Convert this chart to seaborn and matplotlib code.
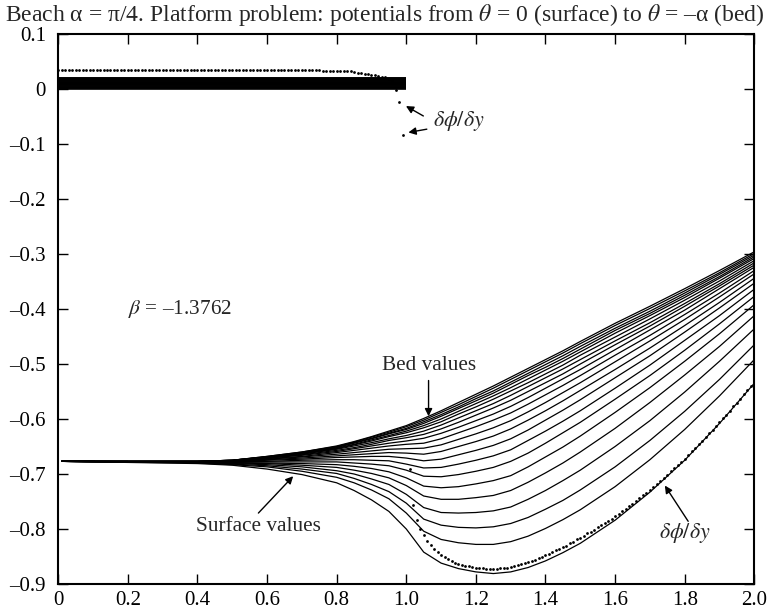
import numpy as np
import pandas as pd
import matplotlib
matplotlib.use("Agg")
import matplotlib.pyplot as plt
import seaborn as sns

# ---------------- data ----------------
# x stations at which the 21 potential curves (bed -> surface) were read
x_stations = [0.01, 0.4, 0.5, 0.6, 0.7, 0.8, 0.85, 0.9, 0.95, 1.0, 1.05,
              1.1, 1.15, 1.2, 1.25, 1.3, 1.35, 1.4, 1.45, 1.5, 1.6, 1.7, 1.8, 1.9, 2.0]

# each list: potentials of the 21 curves at one x station, from bed (theta=-alpha) to surface (theta=0)
phi_x001 = [-0.677] * 21
phi_x040 = [-0.677, -0.677, -0.677, -0.677, -0.677, -0.677, -0.677, -0.677, -0.678, -0.678, -0.678,
            -0.678, -0.678, -0.678, -0.678, -0.679, -0.679, -0.679, -0.679, -0.680, -0.681]
phi_x050 = [-0.675, -0.675, -0.675, -0.675, -0.675, -0.676, -0.676, -0.676, -0.676, -0.677, -0.677,
            -0.677, -0.678, -0.678, -0.679, -0.680, -0.680, -0.681, -0.682, -0.683, -0.684]
phi_x060 = [-0.668, -0.668, -0.669, -0.669, -0.669, -0.670, -0.670, -0.671, -0.671, -0.672, -0.673,
            -0.674, -0.675, -0.677, -0.678, -0.680, -0.681, -0.683, -0.685, -0.687, -0.691]
phi_x070 = [-0.660, -0.660, -0.661, -0.662, -0.662, -0.663, -0.664, -0.665, -0.666, -0.668, -0.669,
            -0.671, -0.673, -0.675, -0.678, -0.681, -0.684, -0.687, -0.691, -0.695, -0.701]
phi_x080 = [-0.649, -0.650, -0.651, -0.652, -0.653, -0.654, -0.655, -0.657, -0.659, -0.661, -0.664,
            -0.667, -0.670, -0.674, -0.678, -0.683, -0.688, -0.694, -0.699, -0.706, -0.716]
phi_x085 = [-0.641, -0.642, -0.643, -0.644, -0.646, -0.647, -0.649, -0.652, -0.654, -0.657, -0.661,
            -0.665, -0.669, -0.674, -0.680, -0.686, -0.693, -0.700, -0.708, -0.716, -0.730]
phi_x090 = [-0.632, -0.633, -0.635, -0.636, -0.638, -0.640, -0.643, -0.646, -0.649, -0.653, -0.658,
            -0.663, -0.668, -0.675, -0.682, -0.690, -0.699, -0.709, -0.719, -0.729, -0.747]
phi_x095 = [-0.622, -0.624, -0.626, -0.627, -0.630, -0.632, -0.636, -0.639, -0.644, -0.649, -0.655,
            -0.661, -0.668, -0.676, -0.685, -0.696, -0.707, -0.719, -0.732, -0.745, -0.768]
phi_x100 = [-0.612, -0.614, -0.617, -0.619, -0.622, -0.625, -0.630, -0.634, -0.640, -0.646, -0.654,
            -0.662, -0.671, -0.682, -0.693, -0.707, -0.721, -0.737, -0.753, -0.771, -0.800]
phi_x105 = [-0.599, -0.602, -0.605, -0.608, -0.612, -0.616, -0.622, -0.628, -0.635, -0.644, -0.653,
            -0.664, -0.676, -0.689, -0.704, -0.722, -0.740, -0.761, -0.782, -0.804, -0.842]
phi_x110 = [-0.585, -0.588, -0.592, -0.595, -0.600, -0.605, -0.611, -0.618, -0.626, -0.636, -0.647,
            -0.659, -0.673, -0.688, -0.705, -0.725, -0.746, -0.770, -0.793, -0.819, -0.862]
phi_x115 = [-0.570, -0.574, -0.578, -0.581, -0.586, -0.591, -0.598, -0.606, -0.615, -0.625, -0.637,
            -0.650, -0.665, -0.682, -0.701, -0.723, -0.746, -0.771, -0.797, -0.825, -0.872]
phi_x120 = [-0.555, -0.559, -0.563, -0.567, -0.572, -0.578, -0.585, -0.593, -0.603, -0.614, -0.627,
            -0.641, -0.657, -0.675, -0.695, -0.718, -0.743, -0.770, -0.798, -0.828, -0.878]
phi_x125 = [-0.540, -0.544, -0.549, -0.553, -0.558, -0.564, -0.572, -0.580, -0.591, -0.602, -0.616,
            -0.631, -0.648, -0.667, -0.688, -0.712, -0.739, -0.767, -0.796, -0.828, -0.881]
phi_x130 = [-0.524, -0.528, -0.533, -0.537, -0.543, -0.549, -0.557, -0.566, -0.577, -0.589, -0.603,
            -0.618, -0.636, -0.656, -0.677, -0.703, -0.730, -0.760, -0.790, -0.823, -0.878]
phi_x135 = [-0.508, -0.512, -0.517, -0.521, -0.527, -0.534, -0.541, -0.550, -0.561, -0.573, -0.587,
            -0.602, -0.620, -0.639, -0.662, -0.687, -0.715, -0.746, -0.779, -0.813, -0.870]
phi_x140 = [-0.492, -0.496, -0.501, -0.506, -0.511, -0.518, -0.525, -0.534, -0.544, -0.556, -0.570,
            -0.585, -0.602, -0.622, -0.644, -0.669, -0.698, -0.730, -0.764, -0.799, -0.858]
phi_x145 = [-0.476, -0.480, -0.485, -0.490, -0.495, -0.502, -0.509, -0.518, -0.527, -0.539, -0.552,
            -0.567, -0.584, -0.604, -0.625, -0.651, -0.680, -0.712, -0.748, -0.783, -0.843]
phi_x150 = [-0.459, -0.463, -0.468, -0.473, -0.478, -0.484, -0.492, -0.500, -0.510, -0.521, -0.534,
            -0.548, -0.565, -0.585, -0.606, -0.631, -0.660, -0.693, -0.729, -0.765, -0.826]
phi_x160 = [-0.426, -0.430, -0.435, -0.439, -0.444, -0.451, -0.458, -0.465, -0.474, -0.484, -0.496,
            -0.510, -0.525, -0.544, -0.564, -0.588, -0.617, -0.650, -0.687, -0.723, -0.784]
phi_x170 = [-0.395, -0.399, -0.404, -0.408, -0.412, -0.418, -0.425, -0.431, -0.438, -0.448, -0.458,
            -0.471, -0.485, -0.502, -0.521, -0.543, -0.570, -0.603, -0.639, -0.674, -0.733]
phi_x180 = [-0.363, -0.367, -0.371, -0.375, -0.379, -0.384, -0.390, -0.395, -0.402, -0.410, -0.419,
            -0.430, -0.442, -0.457, -0.475, -0.495, -0.520, -0.551, -0.586, -0.619, -0.675]
phi_x190 = [-0.330, -0.334, -0.337, -0.341, -0.344, -0.349, -0.354, -0.358, -0.363, -0.371, -0.378,
            -0.388, -0.398, -0.412, -0.427, -0.445, -0.468, -0.495, -0.528, -0.558, -0.608]
phi_x200 = [-0.296, -0.299, -0.302, -0.305, -0.308, -0.312, -0.316, -0.320, -0.324, -0.330, -0.336,
            -0.344, -0.353, -0.364, -0.377, -0.392, -0.412, -0.436, -0.465, -0.492, -0.535]

phi_columns = [phi_x001, phi_x040, phi_x050, phi_x060, phi_x070, phi_x080, phi_x085, phi_x090,
               phi_x095, phi_x100, phi_x105, phi_x110, phi_x115, phi_x120, phi_x125, phi_x130,
               phi_x135, phi_x140, phi_x145, phi_x150, phi_x160, phi_x170, phi_x180, phi_x190,
               phi_x200]

# platform potentials (0 < x < 1): 21 nearly constant curves, forming the thick band
platform_x = [0.0, 1.0]
platform_levels = [0.0005, 0.0015, 0.0025, 0.0035, 0.0045, 0.0055, 0.0065, 0.0075, 0.0085, 0.0095,
                   0.0105, 0.0115, 0.0125, 0.0135, 0.0145, 0.0155, 0.0165, 0.0175, 0.0185, 0.0195,
                   0.0205]

# d(phi)/dy sample points, x = 0.00 ... 0.99 (step 0.01)
dphidy_top = [0.035, 0.035, 0.035, 0.035, 0.035, 0.035, 0.035, 0.035, 0.035, 0.035,
              0.035, 0.035, 0.035, 0.035, 0.035, 0.035, 0.035, 0.035, 0.035, 0.035,
              0.035, 0.035, 0.035, 0.035, 0.035, 0.035, 0.035, 0.035, 0.035, 0.035,
              0.035, 0.035, 0.035, 0.035, 0.035, 0.035, 0.035, 0.035, 0.035, 0.035,
              0.035, 0.035, 0.035, 0.035, 0.035, 0.035, 0.035, 0.035, 0.035, 0.035,
              0.035, 0.035, 0.035, 0.035, 0.035, 0.035, 0.035, 0.035, 0.035, 0.035,
              0.035, 0.034, 0.034, 0.034, 0.034, 0.034, 0.034, 0.034, 0.034, 0.034,
              0.034, 0.034, 0.034, 0.034, 0.034, 0.034, 0.033, 0.033, 0.033, 0.033,
              0.033, 0.033, 0.033, 0.032, 0.032, 0.031, 0.030, 0.029, 0.028, 0.027,
              0.026, 0.025, 0.024, 0.022, 0.021, 0.019, 0.015, -0.002, -0.024, -0.083]
# d(phi)/dy sample points, x = 1.01 ... 2.00 (step 0.01)
dphidy_bottom = [-0.691, -0.757, -0.784, -0.800, -0.811, -0.821, -0.829, -0.836, -0.842, -0.847,
                 -0.851, -0.855, -0.858, -0.861, -0.863, -0.865, -0.867, -0.868, -0.869, -0.870,
                 -0.871, -0.871, -0.872, -0.872, -0.872, -0.872, -0.871, -0.871, -0.870, -0.869,
                 -0.867, -0.866, -0.864, -0.862, -0.860, -0.858, -0.856, -0.853, -0.851, -0.848,
                 -0.845, -0.842, -0.839, -0.836, -0.833, -0.830, -0.826, -0.823, -0.819, -0.816,
                 -0.812, -0.808, -0.805, -0.801, -0.797, -0.793, -0.789, -0.785, -0.781, -0.777,
                 -0.772, -0.768, -0.763, -0.759, -0.754, -0.749, -0.744, -0.739, -0.734, -0.729,
                 -0.723, -0.718, -0.712, -0.707, -0.701, -0.695, -0.689, -0.684, -0.678, -0.672,
                 -0.666, -0.659, -0.653, -0.646, -0.640, -0.633, -0.626, -0.620, -0.613, -0.606,
                 -0.599, -0.592, -0.585, -0.577, -0.570, -0.563, -0.555, -0.548, -0.540, -0.533]

x_ticks = [0.0, 0.2, 0.4, 0.6, 0.8, 1.0, 1.2, 1.4, 1.6, 1.8, 2.0]
x_ticklabels = ["0", "0.2", "0.4", "0.6", "0.8", "1.0", "1.2", "1.4", "1.6", "1.8", "2.0"]
y_ticks = [0.1, 0.0, -0.1, -0.2, -0.3, -0.4, -0.5, -0.6, -0.7, -0.8, -0.9]
y_ticklabels = ["0.1", "0", "–0.1", "–0.2", "–0.3", "–0.4", "–0.5", "–0.6", "–0.7", "–0.8", "–0.9"]

# ---------------- build tables ----------------
rows = []
for i, xv in enumerate(x_stations):
    for k, v in enumerate(phi_columns[i]):
        rows.append({"x": xv, "phi": v, "curve": k})
curves_df = pd.DataFrame(rows)

prow = []
for k, lev in enumerate(platform_levels):
    for xv in platform_x:
        prow.append({"x": xv, "phi": lev, "curve": k})
platform_df = pd.DataFrame(prow)

dots_x = list(np.round(np.arange(0, 100) * 0.01, 2)) + list(np.round(1.01 + np.arange(0, 100) * 0.01, 2))
dots_df = pd.DataFrame({"x": dots_x, "phi": dphidy_top + dphidy_bottom})

# ---------------- style ----------------
sns.set_theme(style="ticks")
plt.rcParams["font.family"] = ["Liberation Serif", "DejaVu Serif"]
plt.rcParams["mathtext.fontset"] = "stix"
plt.rcParams["axes.unicode_minus"] = False

fig = plt.figure(figsize=(7.7, 6.13), dpi=100)
ax = fig.add_axes([0.0757, 0.0473, 0.9039, 0.8972])

sns.lineplot(data=curves_df, x="x", y="phi", units="curve", estimator=None,
             color="black", lw=0.9, legend=False, ax=ax, sort=False)
sns.lineplot(data=platform_df, x="x", y="phi", units="curve", estimator=None,
             color="black", lw=1.2, legend=False, ax=ax, sort=False,
             solid_capstyle="butt")
sns.scatterplot(data=dots_df, x="x", y="phi", color="black", s=4, linewidth=0,
                legend=False, ax=ax)

ax.set_xlim(0, 2.0)
ax.set_ylim(-0.9, 0.1)
ax.set_xticks(x_ticks)
ax.set_xticklabels(x_ticklabels)
ax.set_yticks(y_ticks)
ax.set_yticklabels(y_ticklabels)
ax.set_xlabel("")
ax.set_ylabel("")
ax.tick_params(direction="in", length=7, width=1.0, top=True, right=True,
               labelsize=15, colors="black")
ax.tick_params(axis="y", pad=9)
ax.tick_params(axis="x", pad=5)
for sp in ax.spines.values():
    sp.set_linewidth(1.5)
    sp.set_color("black")
    sp.set_visible(True)

fig.text(0.5, 1 - 21.0 / 613,
         r"Beach α = π/4. Platform problem: potentials from $\theta$ = 0 (surface) to $\theta$ = –α (bed)",
         fontsize=17, ha="center", va="baseline")

ax.text(0.2, -0.40, r"$\beta$ = –1.3762", fontsize=15.3, ha="left", va="center")

arrow = dict(arrowstyle="-|>", color="black", lw=1.0, mutation_scale=11, shrinkA=0, shrinkB=0)
ax.text(1.064, -0.503, "Bed values", fontsize=15.3, ha="center", va="center")
ax.annotate("", xy=(1.064, -0.595), xytext=(1.064, -0.530), arrowprops=arrow)

ax.text(0.575, -0.795, "Surface values", fontsize=15.3, ha="center", va="center")
ax.annotate("", xy=(0.675, -0.704), xytext=(0.575, -0.771), arrowprops=arrow)

ax.text(1.80, -0.808, r"$\delta\phi/\delta y$", fontsize=15.8, ha="center", va="center")
ax.annotate("", xy=(1.743, -0.721), xytext=(1.81, -0.786), arrowprops=arrow)

ax.text(1.15, -0.058, r"$\delta\phi/\delta y$", fontsize=15.8, ha="center", va="center")
ax.annotate("", xy=(0.999, -0.031), xytext=(1.049, -0.049), arrowprops=arrow)
ax.annotate("", xy=(1.006, -0.079), xytext=(1.059, -0.073), arrowprops=arrow)

fig.savefig("out.png", dpi=100)
